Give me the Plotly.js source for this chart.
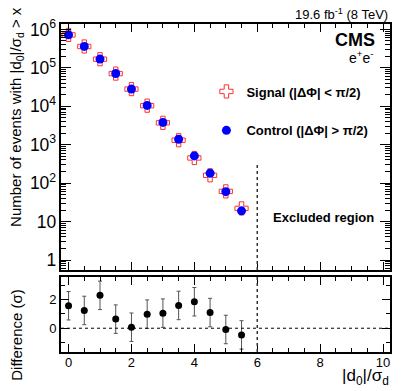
<!DOCTYPE html>
<html><head><meta charset="utf-8">
<script src="https://cdn.plot.ly/plotly-3.0.1.min.js"></script>
<style>html,body{margin:0;padding:0;background:#fff}#plot{width:407px;height:391px}</style>
</head><body><div id="plot"></div>
<script>
// ---- data ----
const cutValues = [0, 0.5, 1, 1.5, 2, 2.5, 3, 3.5, 4, 4.5, 5, 5.5];
const controlCounts = [720000, 360000, 169000, 71000, 28000, 10500, 3800, 1390, 510, 181, 60, 19];
const signalCounts  = [718000, 358900, 167700, 70770, 27990, 10360, 3710, 1308, 452, 160, 61, 22];
const differenceValues = [1.58, 1.25, 2.31, 0.64, 0.07, 0.99, 1.06, 1.6, 1.86, 1.1, -0.09, -0.47];
const differenceErrors = [1, 1, 1, 1, 1, 1, 1, 1, 1, 1, 1, 1];
const excludedCut = 6;

const F = "Liberation Sans, Arial, sans-serif";

const traces = [
  {x: cutValues, y: signalCounts, type: 'scatter', mode: 'markers', name: '<b>Signal (|ΔΦ| &lt; π/2)</b>',
   xaxis: 'x', yaxis: 'y', legendgroup: 'a',
   marker: {symbol: 'cross-open', size: 11, color: '#ff3030', line: {width: 1, color: '#ff3030'}}},
  {x: cutValues, y: controlCounts, type: 'scatter', mode: 'markers', name: '<b>Control (|ΔΦ| &gt; π/2)</b>',
   xaxis: 'x', yaxis: 'y', legendgroup: 'b',
   marker: {symbol: 'circle', size: 9, color: '#0000ff'}},
  {x: cutValues, y: differenceValues, type: 'scatter', mode: 'markers', showlegend: false,
   xaxis: 'x2', yaxis: 'y2',
   error_y: {type: 'data', array: differenceErrors, visible: true, color: '#555', thickness: 1, width: 2},
   marker: {symbol: 'circle', size: 7, color: '#000'}}
];

const axBase = {showline: true, linewidth: 2, linecolor: '#000', mirror: 'ticks', ticks: 'inside',
  showgrid: false, zeroline: false, tickcolor: '#000', tickfont: {family: F, size: 13, color: '#000'}};

const layout = {
  width: 407, height: 391,
  margin: {l: 61, r: 17, t: 24, b: 39},
  paper_bgcolor: '#fff', plot_bgcolor: '#fff',
  font: {family: F, color: '#000'},
  showlegend: true,
  legend: {x: 0.442, y: 0.84, xanchor: 'left', yanchor: 'top', bgcolor: 'rgba(0,0,0,0)',
           font: {family: F, size: 13, color: '#000'}, tracegroupgap: 19},
  xaxis: Object.assign({}, axBase, {range: [-0.24, 10.22], anchor: 'y', showticklabels: false,
           dtick: 2, ticklen: 8, minor: {dtick: 0.5, ticklen: 4, ticks: 'inside', tickcolor: '#000'}}),
  yaxis: Object.assign({}, axBase, {type: 'log', range: [-0.26, 6.14], domain: [0.25, 1], anchor: 'x',
           dtick: 1, exponentformat: 'power', ticklen: 10, tickfont: {family: F, size: 14, color: '#000'},
           minor: {ticklen: 5, ticks: 'inside', tickcolor: '#000', dtick: 'D1'}}),
  xaxis2: Object.assign({}, axBase, {range: [-0.24, 10.22], anchor: 'y2', matches: 'x', ticklabelstandoff: -3,
           dtick: 2, ticklen: 8, minor: {dtick: 0.5, ticklen: 4, ticks: 'inside', tickcolor: '#000'}}),
  yaxis2: Object.assign({}, axBase, {range: [-1.67, 3.6], domain: [0, 0.2287], anchor: 'x2',
           tickvals: [0, 2], ticklen: 8, minor: {dtick: 1, ticklen: 4, ticks: 'inside', tickcolor: '#000'}}),
  shapes: [
    {type: 'line', xref: 'x', yref: 'y domain', x0: excludedCut, x1: excludedCut, y0: 0, y1: 0.427,
     line: {color: '#333', width: 1.5, dash: 'dot'}},
    {type: 'line', xref: 'x2', yref: 'y2 domain', x0: excludedCut, x1: excludedCut, y0: 0, y1: 1,
     line: {color: '#333', width: 1.5, dash: 'dot'}},
    {type: 'line', xref: 'x2 domain', yref: 'y2', x0: 0, x1: 1, y0: 0, y1: 0,
     line: {color: '#000', width: 1, dash: 'dot'}}
  ],
  annotations: [
    {text: '19.6 fb<sup>-1</sup> (8 TeV)', xref: 'paper', yref: 'paper', x: 1, y: 1.0, xanchor: 'right', yanchor: 'bottom',
     showarrow: false, font: {family: F, size: 13}},
    {text: '<b>CMS</b>', xref: 'paper', yref: 'paper', x: 0.96, y: 0.95, xanchor: 'right', yanchor: 'middle',
     showarrow: false, font: {family: F, size: 18}},
    {text: 'e<sup>+</sup>e<sup>-</sup>', xref: 'paper', yref: 'paper', x: 0.956, y: 0.899, xanchor: 'right', yanchor: 'middle',
     showarrow: false, font: {family: F, size: 14}},
    {text: '<b>Excluded region</b>', xref: 'x', yref: 'y domain', x: 8.1, y: 0.215, xanchor: 'center', yanchor: 'middle',
     showarrow: false, font: {family: F, size: 13}},
    {text: 'Number of events with |d<sub>0</sub>|/σ<sub>d</sub> &gt; x', xref: 'paper', yref: 'paper', textangle: -90,
     x: -0.134, y: 1.058, xanchor: 'center', yanchor: 'top', showarrow: false, font: {family: F, size: 15}},
    {text: 'Difference (σ)', xref: 'paper', yref: 'paper', textangle: -90,
     x: -0.134, y: -0.094, xanchor: 'center', yanchor: 'bottom', showarrow: false, font: {family: F, size: 15}},
    {text: '|d<sub>0</sub>|/σ<sub>d</sub>', xref: 'paper', yref: 'paper', x: 1.004, y: -0.036, xanchor: 'right', yanchor: 'top',
     showarrow: false, font: {family: F, size: 17}}
  ]
};

Plotly.newPlot('plot', traces, layout, {staticPlot: true, displayModeBar: false});
</script></body></html>
